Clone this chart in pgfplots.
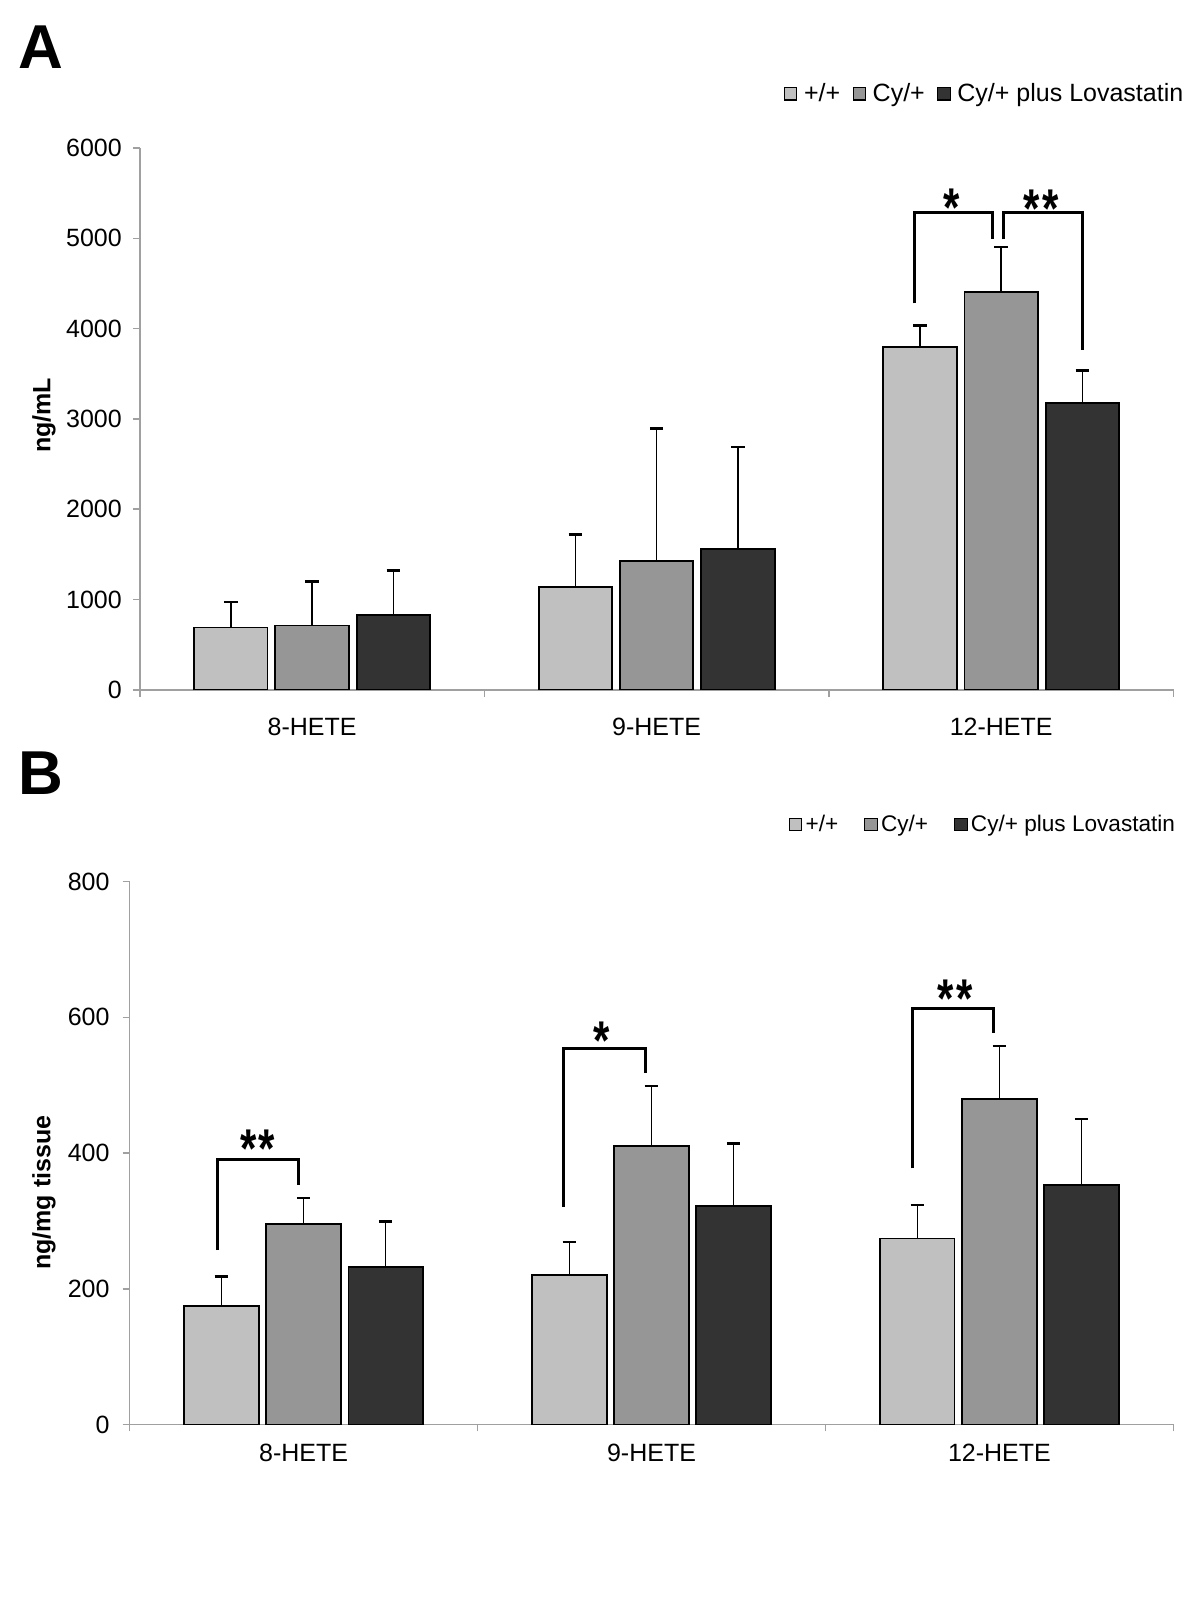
\documentclass[border=0pt]{standalone}
\usepackage{fontspec}
\setmainfont{Liberation Sans}
\usepackage{pgfplots}
\pgfplotsset{compat=1.18}

\definecolor{wt}{HTML}{C0C0C0}
\definecolor{cy}{HTML}{969696}
\definecolor{lov}{HTML}{333333}
\definecolor{axgray}{HTML}{A0A0A0}

\pgfplotsset{
  hete/.style={
    scale only axis,
    xmin=-0.5, xmax=2.5, ymin=0,
    axis x line=bottom, axis y line=left,
    axis line style={-, draw=axgray, line width=0.8pt},
    tick align=outside, major tick length=3.5pt,
    tick style={draw=axgray, line width=0.8pt},
    xtick={-0.5,0.5,1.5,2.5}, xticklabels={},
    extra x ticks={0,1,2},
    extra x tick labels={8-HETE,9-HETE,12-HETE},
    extra x tick style={major tick length=0pt},
    tick label style={font=\fontsize{12.5}{15}\selectfont},
    /pgf/number format/assume math mode=true,
    /pgf/number format/1000 sep={},
    legend columns=3,
    legend image code/.code={\draw[##1,draw=black,line width=0.6pt] (0pt,-3.1pt) rectangle (6.2pt,3.1pt);},
  },
  bars/.style={ybar, bar shift=0pt, draw=black, line width=0.9pt, fill=#1,
    error bars/.cd, y dir=plus, y explicit,
    error bar style={line width=0.8pt, black},
    error mark options={rotate=90, mark size=3.4pt, line width=1.2pt, black}},
}
\tikzset{sigstar/.style={anchor=base, inner sep=0pt, yscale=1.3, font=\fontsize{21}{24}\bfseries\selectfont}}

\begin{document}
\begin{tikzpicture}
\path[use as bounding box] (0,0) rectangle (600pt,-800pt);

% panel A
\node[anchor=base west, inner sep=0pt, font=\fontsize{31}{35}\bfseries\selectfont] at (9pt,-34.2pt) {A};
\node[rotate=90, font=\fontsize{12.5}{15}\bfseries\selectfont] at (22pt,-207.7pt) {ng/mL};
\begin{axis}[hete, width=516.85pt, height=270.9pt,
    at={(69.9pt,-344.9pt)}, anchor=south west,
    ymax=6000, ytick={0,1000,...,6000},
    xticklabel style={yshift=-10.7pt},
    yticklabel style={xshift=-2pt},
    bar width=0.213,
    legend style={at={(0.623,1.1)}, anchor=west, draw=none, fill=none,
      inner sep=0pt, outer sep=0pt,
      font=\fontsize{12.5}{15}\selectfont,
      nodes={inner sep=0pt},
      /tikz/every odd column/.append style={column sep=3.3pt},
      /tikz/every even column/.append style={column sep=6.2pt}}]
\addplot[bars=wt] coordinates {(-0.236,689) +- (0,283) (0.764,1141) +- (0,577) (1.764,3797) +- (0,237)};
\addplot[bars=cy] coordinates {(0,712) +- (0,486) (1,1424) +- (0,1469) (2,4408) +- (0,499)};
\addplot[bars=lov] coordinates {(0.236,825) +- (0,497) (1.236,1559) +- (0,1130) (2.236,3175) +- (0,362)};
\legend{+/+,Cy/+,Cy/+ plus Lovastatin}
\draw[line width=1.5pt] (axis cs:1.748,4280) -- (axis cs:1.748,5283) -- (axis cs:1.975,5283) -- (axis cs:1.975,4989);
\draw[line width=1.5pt] (axis cs:2.007,4989) -- (axis cs:2.007,5283) -- (axis cs:2.235,5283) -- (axis cs:2.235,3763);
\node[sigstar] at (axis cs:1.856,5133) {*};
\node[sigstar] at (axis cs:2.115,5115) {*\kern1.2pt*};
\end{axis}

% panel B
\node[anchor=base west, inner sep=0pt, font=\fontsize{31}{35}\bfseries\selectfont] at (9pt,-397pt) {B};
\node[rotate=90, font=\fontsize{12.5}{15}\bfseries\selectfont] at (22pt,-596.4pt) {ng/mg tissue};
\begin{axis}[hete, width=521.9pt, height=271.4pt,
    at={(64.8pt,-712.2pt)}, anchor=south west,
    ymax=800, ytick={0,200,...,800},
    xticklabel style={yshift=-6.1pt},
    yticklabel style={xshift=-3pt},
    bar width=0.214,
    legend style={at={(0.6315,1.105)}, anchor=west, draw=none, fill=none,
      inner sep=0pt, outer sep=0pt,
      font=\fontsize{11.3}{14}\selectfont,
      nodes={inner sep=0pt},
      /tikz/every odd column/.append style={column sep=1.6pt},
      /tikz/every even column/.append style={column sep=13pt}}]
\addplot[bars=wt] coordinates {(-0.236,174) +- (0,44) (0.764,220) +- (0,49) (1.764,274) +- (0,49)};
\addplot[bars=cy] coordinates {(0,295) +- (0,39) (1,410) +- (0,89) (2,480) +- (0,78)};
\addplot[bars=lov] coordinates {(0.236,232) +- (0,67) (1.236,322) +- (0,92) (2.236,353) +- (0,97)};
\legend{+/+,Cy/+,Cy/+ plus Lovastatin}
\draw[line width=1.5pt] (axis cs:-0.248,257) -- (axis cs:-0.248,390.8) -- (axis cs:-0.014,390.8) -- (axis cs:-0.014,352.9);
\draw[line width=1.5pt] (axis cs:0.748,321) -- (axis cs:0.748,554.4) -- (axis cs:0.984,554.4) -- (axis cs:0.984,517.5);
\draw[line width=1.5pt] (axis cs:1.749,377.5) -- (axis cs:1.749,613.3) -- (axis cs:1.984,613.3) -- (axis cs:1.984,576.5);
\node[sigstar] at (axis cs:-0.132,379) {*\kern1.2pt*};
\node[sigstar] at (axis cs:0.857,537.7) {*};
\node[sigstar] at (axis cs:1.872,599.2) {*\kern1.2pt*};
\end{axis}
\end{tikzpicture}
\end{document}
